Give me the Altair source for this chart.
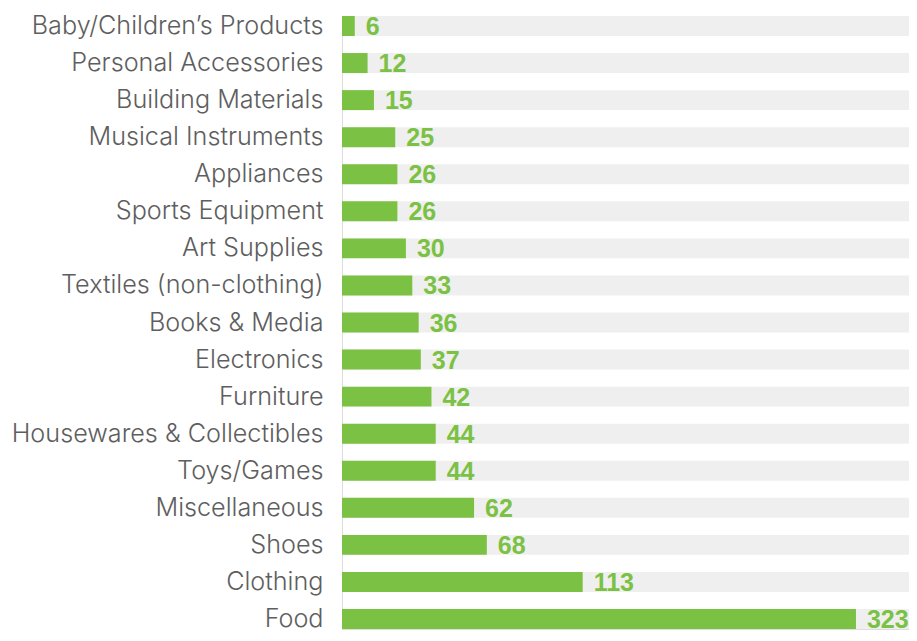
import altair as alt
import pandas as pd

categories = [
    "Baby/Children\u2019s Products", "Personal Accessories", "Building Materials",
    "Musical Instruments", "Appliances", "Sports Equipment", "Art Supplies",
    "Textiles (non-clothing)", "Books & Media", "Electronics", "Furniture",
    "Housewares & Collectibles", "Toys/Games", "Miscellaneous", "Shoes",
    "Clothing", "Food",
]
values = [6, 12, 15, 25, 26, 26, 30, 33, 36, 37, 42, 44, 44, 62, 68, 113, 323]

GREEN = "#7BC143"
GREY_BG = "#EFEFEF"
W, H = 567, 613
XMAX = 266.2    # visible axis extent
CAP = 241.3     # longest bar is truncated to leave room for its label

df = pd.DataFrame({"category": categories, "value": values})

y = alt.Y("category:N", sort=categories, title=None,
          scale=alt.Scale(paddingInner=0.4604, paddingOuter=0),
          axis=alt.Axis(ticks=False, domain=False, grid=False, labelPadding=19,
                        labelFont="Inter", labelFontWeight=300, labelFontSize=25.2,
                        labelColor="#5e5e5e", labelLimit=400))

base = alt.Chart(df).transform_calculate(shown=f"min(datum.value, {CAP})")

bg = base.mark_bar(color=GREY_BG).encode(
    y=y, x=alt.value(0), x2=alt.value(W))

xenc = alt.X("shown:Q", scale=alt.Scale(domain=[0, XMAX], nice=False), axis=None, title=None)

bars = base.mark_bar(color=GREEN).encode(y=y, x=xenc)

labels = base.mark_text(align="left", baseline="middle", dx=11, dy=1, color=GREEN,
                        font="Liberation Sans", fontSize=25, fontWeight="bold").encode(
    y=y, x=xenc, text="value:Q",
)

chart = alt.layer(bg, bars, labels).properties(
    width=W, height=H,
    autosize=alt.AutoSizeParams(type="none"),
    padding={"left": 334, "top": 8, "right": 0, "bottom": 4},
).configure_view(strokeWidth=0).configure(background="white")

chart.save("out.html", embed_options={"renderer": "svg", "actions": False})
